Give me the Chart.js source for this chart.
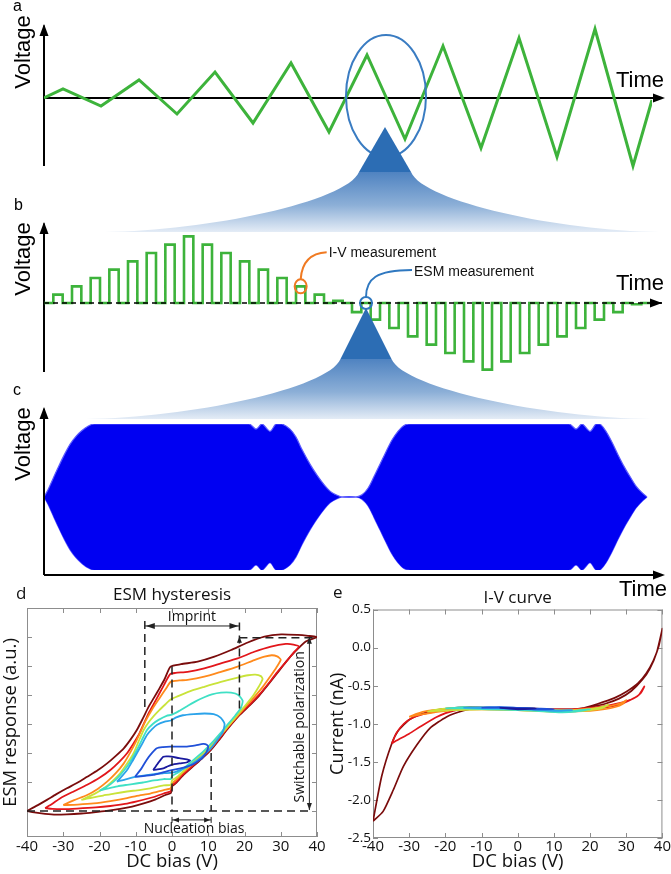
<!DOCTYPE html>
<html><head><meta charset="utf-8">
<script src="https://cdn.jsdelivr.net/npm/chart.js@4.4.1/dist/chart.umd.min.js"></script>
<style>
html,body{margin:0;padding:0;background:#fff;width:671px;height:874px;overflow:hidden}
canvas{position:absolute}
</style></head><body>
<canvas id="ca" width="671" height="240" style="left:0;top:0;width:671px;height:240px"></canvas>
<canvas id="cb" width="671" height="240" style="left:0;top:190px;width:671px;height:240px"></canvas>
<canvas id="cc" width="671" height="220" style="left:0;top:380px;width:671px;height:220px"></canvas>
<canvas id="cd" width="340" height="294" style="left:0;top:580px;width:340px;height:294px"></canvas>
<canvas id="ce" width="341" height="294" style="left:330px;top:580px;width:341px;height:294px"></canvas>
<script>
// ---------------- DATA ----------------
// Panel a: triangular DC-bias ramp (time index, relative voltage)
const rampTime    = [0, 1, 3, 5, 7, 9, 11, 13, 15, 17, 19, 21, 23, 25, 27, 29, 31, 32];
const rampVoltage = [0, 9, -8, 18, -16, 26, -25, 35, -34, 43, -41, 52, -50, 60, -59, 69, -68, -2];
// Panel b: pulse heights of the switching waveform (one per pulse)
const pulseLevels = [1, 2, 3, 4, 5, 6, 7, 8, 7, 6, 5, 4, 3, 2, 1, 0.25,
                     -1.1, -2, -3, -4, -5, -6, -7, -8, -7, -6, -5, -4, -3, -2, -1.1, -0.15];
// Panel c: band-excitation envelope (time offset, relative amplitude)
const envTime = [0, 4, 9, 14, 20, 26, 32, 38, 44, 50, 205, 212, 218, 226, 232, 238, 246, 252, 258, 266, 273, 280, 286, 292, 298,
                 312, 318, 324, 330, 336, 342, 348, 354, 360, 366, 525, 532, 538, 546, 552, 556, 562, 568, 574, 580, 586, 592, 598, 603];
const envAmp  = [0, 0.1, 0.25, 0.4, 0.57, 0.72, 0.83, 0.91, 0.97, 1, 1, 0.93, 1, 0.9, 1, 1, 0.93, 0.82, 0.65, 0.45, 0.3, 0.17, 0.08, 0.03, 0,
                 0, 0.03, 0.12, 0.28, 0.45, 0.62, 0.78, 0.9, 0.98, 1, 1, 0.93, 1, 0.9, 1, 1, 0.9, 0.75, 0.58, 0.42, 0.28, 0.15, 0.06, 0];
// Panel d: ESM hysteresis loops [DC bias (V), ESM response (a.u.)]
const esmLoop40 = [[-40,0],[-37,0.2],[-34.5,0.38],[-32,0.57],[-29,0.78],[-26,0.98],[-23.4,1.18],[-20.5,1.4],[-17.9,1.64],[-15.5,1.9],[-13.3,2.16],[-11.5,2.45],[-9.7,2.79],[-8,3.2],[-6.5,3.58],[-5,3.9],[-3.5,4.22],[-2,4.56],[-0.4,4.98],[2.5,5.06],[7.1,5.15],[11.7,5.32],[16.3,5.55],[20.9,5.81],[25.5,6.01],[30.1,6.09],[34.7,6.07],[37.5,6.04],[40,6.0],
  [37,5.85],[34,5.5],[31.5,5.15],[29,4.75],[26.5,4.35],[24,3.97],[21.5,3.65],[18.6,3.3],[15.5,2.85],[12.8,2.42],[10.7,2.1],[8,1.78],[5.5,1.5],[3,1.22],[1,0.95],[0,0.85],[-0.3,0.62],[-1.8,0.55],[-4.5,0.4],[-7.8,0.26],[-11,0.15],[-14.3,0.07],[-18,0.0],[-21.6,-0.05],[-25,-0.09],[-29,-0.12],[-32,-0.13],[-35,-0.1],[-38,-0.05],[-40,0]];
const esmLoop35 = [[-35,0.1],[-33,0.25],[-30.8,0.44],[-27,0.68],[-23.4,0.9],[-20,1.14],[-17,1.41],[-14.5,1.7],[-12.4,1.99],[-10.5,2.35],[-9.2,2.62],[-7.8,3.0],[-6.4,3.38],[-5,3.7],[-3.7,4.0],[-2.2,4.35],[-0.5,4.72],[1,4.76],[4.3,4.8],[8.9,4.92],[13.5,5.09],[18.1,5.26],[22.7,5.49],[27.3,5.67],[31.4,5.76],[33.5,5.74],[35,5.67],
  [33.5,5.45],[31.5,5.15],[29,4.78],[26.5,4.38],[24,4.0],[21.5,3.68],[18.6,3.33],[15.5,2.88],[12.8,2.45],[10.7,2.13],[8,1.81],[5.5,1.53],[3,1.25],[1,0.98],[0,0.88],[-0.3,0.68],[-2.3,0.6],[-5,0.48],[-9.7,0.33],[-13,0.24],[-17,0.17],[-21,0.12],[-26.2,0.08],[-30,0.06],[-33,0.07],[-35,0.1]];
const esmLoop30 = [[-30,0.2],[-27,0.37],[-23.4,0.55],[-20.5,0.76],[-17.9,1.01],[-15.5,1.3],[-13.3,1.64],[-11.5,2.02],[-9.7,2.45],[-8.5,2.78],[-7.4,3.08],[-5.5,3.5],[-3.5,3.88],[-1.5,4.25],[-0.3,4.46],[2,4.5],[4.3,4.52],[8.9,4.63],[13.5,4.8],[18.1,4.98],[22.7,5.2],[25.5,5.32],[27.5,5.37],[29,5.33],[30,5.22],
  [28.8,4.95],[27,4.62],[25,4.27],[22.5,3.9],[20,3.55],[17.5,3.2],[15,2.85],[12.5,2.48],[10.5,2.2],[8,1.88],[5.5,1.6],[3,1.32],[1,1.05],[0,0.95],[-0.3,0.78],[-2.3,0.72],[-6,0.6],[-9.7,0.52],[-12.4,0.44],[-17,0.34],[-21.6,0.26],[-26,0.22],[-30,0.2]];
const esmLoop25 = [[-25,0.38],[-21.5,0.58],[-18.8,0.78],[-16.5,1.02],[-14.3,1.3],[-12.3,1.65],[-10.6,1.99],[-9.2,2.4],[-7.8,2.79],[-6.5,3.05],[-5,3.28],[-3.5,3.48],[-1.8,3.68],[-0.3,3.85],[1.5,3.95],[4.3,4.1],[8.9,4.28],[13.5,4.45],[18.1,4.6],[21,4.68],[23,4.7],[24.5,4.65],[25,4.55],
  [24,4.3],[22.5,4.0],[20.5,3.68],[18.5,3.38],[16,3.0],[13.5,2.63],[11,2.28],[8.5,1.98],[6,1.7],[3.5,1.42],[1.5,1.18],[0,1.05],[-0.3,0.9],[-2.3,0.88],[-6,0.78],[-9,0.72],[-12.4,0.67],[-16,0.6],[-19,0.53],[-21.6,0.47],[-23.5,0.42],[-25,0.38]];
const esmLoop20 = [[-20,0.7],[-18,0.83],[-16.1,1.01],[-14.2,1.25],[-12.4,1.53],[-11,1.8],[-9.7,2.1],[-8.3,2.45],[-6.9,2.79],[-5.3,3.0],[-3.7,3.14],[-1.5,3.28],[0,3.32],[2,3.45],[4.3,3.62],[6.5,3.78],[8.9,3.92],[11,4.02],[13.5,4.08],[16.3,4.08],[18.3,4.0],[19.5,3.8],
  [19,3.55],[17.5,3.3],[15.5,3.0],[13.5,2.7],[11.5,2.42],[9,2.1],[6.5,1.82],[4,1.55],[2,1.35],[0,1.2],[-0.3,1.1],[-2.3,1.1],[-5,1.05],[-8,0.98],[-12.4,0.9],[-15,0.85],[-17.5,0.78],[-20,0.7]];
const esmLoop15 = [[-15.2,1.01],[-13.8,1.2],[-12.4,1.41],[-11,1.7],[-9.7,1.99],[-8.3,2.3],[-6.9,2.62],[-5.5,2.82],[-4.1,2.97],[-2,3.08],[-0.3,3.12],[1,3.22],[3,3.3],[6,3.34],[9,3.36],[11.5,3.34],[13.4,3.22],[14.5,3.0],
  [14,2.72],[12.5,2.45],[11,2.2],[9,1.95],[7,1.75],[5,1.58],[3,1.45],[1,1.35],[0,1.32],[-2.3,1.3],[-5,1.27],[-9.7,1.18],[-12.5,1.1],[-15.2,1.01]];
const esmLoop10 = [[-10.2,1.18],[-8.5,1.45],[-7,1.76],[-5.5,2.0],[-4.2,2.16],[-2.5,2.2],[-0.5,2.22],[2,2.22],[4.1,2.22],[6.5,2.26],[8.6,2.31],[9.6,2.28],[10,2.2],[9.4,2.0],[8.5,1.85],[7.7,1.76],[6,1.62],[4.1,1.53],[2,1.46],[-0.1,1.41],[-2.5,1.33],[-5.2,1.24],[-8,1.2],[-10.2,1.18]];
const esmLoop5  = [[-5.2,1.41],[-4,1.62],[-2.4,1.87],[-1,1.88],[-0.1,1.87],[2,1.82],[4.1,1.78],[5,1.74],[4,1.67],[2.2,1.64],[-0.1,1.59],[-1.5,1.52],[-2.4,1.47],[-4,1.43],[-5.2,1.41]];
// Panel e: I-V curves [DC bias (V), current (nA)]
const ivLoop40 = [[-40,-2.28],[-37.6,-1.69],[-34.8,-1.26],[-33,-1.09],[-29.8,-0.94],[-25.2,-0.85],[-19.7,-0.8],[-13.2,-0.78],[-5,-0.79],[5,-0.8],[12,-0.82],[17.5,-0.8],[22,-0.74],[26.8,-0.66],[30,-0.58],[33.2,-0.47],[35.5,-0.34],[37.5,-0.17],[39,0.02],[40,0.25],
  [38.5,-0.05],[36.5,-0.28],[34.5,-0.42],[31.4,-0.57],[28,-0.67],[24,-0.74],[20,-0.78],[15,-0.81],[10,-0.81],[0,-0.8],[-10.5,-0.79],[-15.1,-0.83],[-19.7,-0.91],[-24.3,-1.06],[-27.9,-1.28],[-31.6,-1.56],[-34.4,-1.87],[-37.2,-2.15],[-40,-2.28]];
const ivLoop35 = [[-34.8,-1.26],[-33.5,-1.12],[-31.5,-1.0],[-29,-0.92],[-25,-0.86],[-20,-0.82],[-14,-0.8],[-5,-0.8],[5,-0.81],[15,-0.81],[20,-0.79],[25,-0.76],[29,-0.72],[32,-0.67],[34,-0.6],[35,-0.51],
  [33.5,-0.62],[31,-0.69],[28,-0.75],[24,-0.79],[20,-0.81],[10,-0.82],[0,-0.81],[-12,-0.8],[-17.8,-0.83],[-22.4,-0.91],[-27,-1.04],[-30,-1.13],[-33.5,-1.22],[-34.8,-1.26]];
const ivLoop30 = [[-30,-0.91],[-28,-0.87],[-25,-0.83],[-21,-0.81],[-15,-0.79],[-8,-0.79],[0,-0.8],[8,-0.82],[15,-0.82],[20,-0.8],[24,-0.78],[27,-0.75],[29,-0.72],[30,-0.69],
  [29,-0.74],[27,-0.78],[24,-0.81],[20,-0.83],[12,-0.84],[0,-0.82],[-10,-0.81],[-18,-0.82],[-23,-0.85],[-27,-0.88],[-30,-0.91]];
const ivLoop25 = [[-25,-0.84],[-22,-0.81],[-17,-0.79],[-10,-0.79],[0,-0.8],[10,-0.82],[17,-0.82],[21,-0.8],[24,-0.77],[25,-0.75],[23,-0.8],[18,-0.83],[10,-0.84],[0,-0.82],[-10,-0.81],[-18,-0.82],[-22,-0.83],[-25,-0.84]];
const ivLoop20 = [[-20,-0.8],[-15,-0.78],[-8,-0.79],[0,-0.8],[8,-0.82],[12.5,-0.84],[16,-0.83],[20,-0.81],[16,-0.84],[12,-0.85],[5,-0.83],[0,-0.82],[-8,-0.81],[-15,-0.8],[-20,-0.8]];
const ivLoop15 = [[-15,-0.79],[-8,-0.78],[0,-0.79],[7,-0.81],[12,-0.83],[15,-0.82],[10,-0.83],[3,-0.81],[-5,-0.8],[-15,-0.79]];
const ivLoop10 = [[-10,-0.79],[-5,-0.78],[0,-0.79],[5,-0.8],[10,-0.81],[5,-0.81],[0,-0.8],[-5,-0.79],[-10,-0.79]];
const ivLoop5  = [[-5,-0.79],[0,-0.8],[5,-0.8],[0,-0.81],[-5,-0.79]];
const loopColors = ['#7a0c0c', '#e2161b', '#ff8a1c', '#c9e33a', '#3fe0c5', '#2ba3ea', '#2050d8', '#1a1a9e'];
const esmTicks = [0, 1, 2, 3, 4, 5, 6];
const ivTicks = [-2.5, -2.0, -1.5, -1.0, -0.5, 0.0, 0.5];

// ---------------- HELPERS ----------------
const GREEN = '#3db33b';
const ARIAL = '"Liberation Sans", Arial, sans-serif';
const SANS = '"Open Sans", "Noto Sans", sans-serif';
function seg(ctx,x1,y1,x2,y2){ctx.beginPath();ctx.moveTo(x1,y1);ctx.lineTo(x2,y2);ctx.stroke();}
function head(ctx,x,y,dx,dy,len,half){
  const L=Math.hypot(dx,dy), ux=dx/L, uy=dy/L;
  ctx.beginPath(); ctx.moveTo(x,y);
  ctx.lineTo(x-ux*len-uy*half, y-uy*len+ux*half);
  ctx.lineTo(x-ux*len+uy*half, y-uy*len-ux*half);
  ctx.closePath(); ctx.fill();
}
function arrow(ctx,x1,y1,x2,y2,len,half){ seg(ctx,x1,y1,x2-(x2-x1)*0.01,y2-(y2-y1)*0.01); head(ctx,x2,y2,x2-x1,y2-y1,len,half); }
function vText(ctx,txt,x,y){ctx.save();ctx.translate(x,y);ctx.rotate(-Math.PI/2);ctx.textAlign='center';ctx.textBaseline='middle';ctx.fillText(txt,0,0);ctx.restore();}
function funnel(ctx,cx,yTop,half,yBot,xL,xR){
  const h=yBot-yTop, x0=cx-half, x1=cx+half, WL=x0-xL, WR=xR-x1;
  const g=ctx.createLinearGradient(0,yTop,0,yBot);
  g.addColorStop(0,'#4f83c1'); g.addColorStop(0.55,'#8cafd7'); g.addColorStop(1,'#e4ecf6');
  ctx.fillStyle=g; ctx.beginPath(); ctx.moveTo(x0,yTop);
  ctx.bezierCurveTo(x0-0.05*WL, yTop+0.5*h, x0-0.6*WL, yBot-0.02*h, xL, yBot);
  ctx.lineTo(xR,yBot);
  ctx.bezierCurveTo(x1+0.6*WR, yBot-0.02*h, x1+0.05*WR, yTop+0.5*h, x1, yTop);
  ctx.closePath(); ctx.fill();
}
function triangle(ctx,cx,apexY,baseY,half){ctx.fillStyle='#2c6db4';ctx.beginPath();ctx.moveTo(cx,apexY);ctx.lineTo(cx+half,baseY);ctx.lineTo(cx-half,baseY);ctx.closePath();ctx.fill();}
const noUI = {legend:{display:false}, tooltip:{enabled:false}};
const hidden = {display:false};

// ---------------- PANEL A ----------------
new Chart(document.getElementById('ca'), {
  type:'line',
  data:{datasets:[{data:rampTime.map((t,i)=>({x:t,y:rampVoltage[i]})), borderColor:GREEN, borderWidth:3, pointRadius:0, tension:0, fill:false, borderJoinStyle:'miter'}]},
  options:{responsive:false, animation:false, events:[],
    layout:{padding:{left:44,right:19,top:12,bottom:56}},
    plugins:noUI,
    scales:{x:{type:'linear',min:0,max:32,...hidden}, y:{min:-86,max:86,...hidden}}},
  plugins:[{id:'decoA',
    beforeDatasetsDraw(chart){
      const {ctx,scales:{x,y}}=chart; const x0=x.getPixelForValue(0), y0=y.getPixelForValue(0);
      ctx.save(); ctx.strokeStyle='#000'; ctx.fillStyle='#000'; ctx.lineWidth=2;
      arrow(ctx,x0,166,x0,24,12,4.5); arrow(ctx,x0,y0,665,y0,12,4.5);
      ctx.font='22px '+ARIAL; ctx.textAlign='left'; ctx.textBaseline='alphabetic';
      ctx.fillText('Time',616,87); vText(ctx,'Voltage',23.5,52);
      ctx.font='16px '+ARIAL; ctx.fillText('a',13,11);
      ctx.restore();
    },
    afterDatasetsDraw(chart){
      const {ctx,scales:{x,y}}=chart; const cx=x.getPixelForValue(18), cy=y.getPixelForValue(2);
      ctx.save(); ctx.strokeStyle='#3a7cc2'; ctx.lineWidth=2;
      ctx.beginPath(); ctx.ellipse(cx,cy,40,61,0,0,Math.PI*2); ctx.stroke();
      funnel(ctx,cx-1,172,26,232,105,659);
      triangle(ctx,cx-1,127,172,26);
      ctx.restore();
    }}]
});

// ---------------- PANEL B ----------------
const stepPts=[{x:0,y:0}];
pulseLevels.forEach((L,i)=>{stepPts.push({x:2*i+1,y:0},{x:2*i+1,y:L},{x:2*i+2,y:L},{x:2*i+2,y:0});});
stepPts.push({x:65.2,y:0});
new Chart(document.getElementById('cb'), {
  type:'line',
  data:{datasets:[{data:stepPts, borderColor:GREEN, borderWidth:2.6, pointRadius:0, tension:0, fill:false, borderJoinStyle:'miter'}]},
  options:{responsive:false, animation:false, events:[],
    layout:{padding:{left:44,right:11,top:38,bottom:52}},
    plugins:noUI,
    scales:{x:{type:'linear',min:0,max:66,...hidden}, y:{min:-9,max:9,...hidden}}},
  plugins:[{id:'decoB',
    beforeDatasetsDraw(chart){
      const {ctx,scales:{x}}=chart; const x0=x.getPixelForValue(0);
      ctx.save(); ctx.strokeStyle='#000'; ctx.fillStyle='#000'; ctx.lineWidth=2;
      arrow(ctx,x0,182,x0,32,12,4.5);
      ctx.font='22px '+ARIAL; ctx.textAlign='left';
      ctx.fillText('Time',616,100); vText(ctx,'Voltage',23.5,69);
      ctx.font='16px '+ARIAL; ctx.fillText('b',14,20);
      ctx.restore();
    },
    afterDatasetsDraw(chart){
      const {ctx,scales:{x,y}}=chart; const x0=x.getPixelForValue(0), y0=y.getPixelForValue(0);
      ctx.save(); ctx.strokeStyle='#000'; ctx.fillStyle='#000'; ctx.lineWidth=1.5;
      ctx.setLineDash([5,4]); seg(ctx,x0,y0,655,y0); ctx.setLineDash([]);
      ctx.lineWidth=2; arrow(ctx,650,y0,662,y0,12,4.5);
      // I-V measurement marker
      const ox=x.getPixelForValue(27.5), oy=y.getPixelForValue(pulseLevels[13]);
      ctx.strokeStyle='#f07a22'; ctx.lineWidth=2;
      ctx.beginPath(); ctx.ellipse(ox,oy,6,7,0,0,Math.PI*2); ctx.stroke();
      ctx.beginPath(); ctx.moveTo(ox,oy-7); ctx.bezierCurveTo(ox+1,oy-22,ox+8,oy-33,ox+26,oy-34); ctx.stroke();
      // ESM measurement marker
      const bx=x.getPixelForValue(34.5), by=y0;
      ctx.strokeStyle='#2f78c0';
      ctx.beginPath(); ctx.ellipse(bx,by,6,6,0,0,Math.PI*2); ctx.stroke();
      ctx.beginPath(); ctx.moveTo(bx,by-6); ctx.bezierCurveTo(bx,by-24,bx+10,by-33,bx+46,by-33); ctx.stroke();
      ctx.fillStyle='#111'; ctx.font='14px '+ARIAL; ctx.textAlign='left';
      ctx.fillText('I-V measurement',ox+28,oy-29);
      ctx.fillText('ESM measurement',bx+48,by-27);
      funnel(ctx,bx,169,25.5,229,86,651);
      triangle(ctx,bx,118,169,25.5);
      ctx.restore();
    }}]
});

// ---------------- PANEL C ----------------
new Chart(document.getElementById('cc'), {
  type:'line',
  data:{datasets:[
    {data:envTime.map((t,i)=>({x:t,y:envAmp[i]})), borderColor:'#5a5aff', borderWidth:1.2, backgroundColor:'#0000f2', pointRadius:0, tension:0.3, fill:'+1'},
    {data:envTime.map((t,i)=>({x:t,y:-envAmp[i]})), borderColor:'#5a5aff', borderWidth:1.2, pointRadius:0, tension:0.3, fill:false}]},
  options:{responsive:false, animation:false, events:[],
    layout:{padding:{left:44,right:10,top:44,bottom:30}},
    plugins:noUI,
    scales:{x:{type:'linear',min:0,max:617,...hidden}, y:{min:-1,max:1,...hidden}}},
  plugins:[{id:'decoC',
    afterDatasetsDraw(chart){
      const {ctx,scales:{x}}=chart; const x0=x.getPixelForValue(0);
      ctx.save(); ctx.strokeStyle='#000'; ctx.fillStyle='#000'; ctx.lineWidth=2;
      arrow(ctx,x0,195,x0,27,12,4.5); arrow(ctx,x0,195,665,195,12,4.5);
      ctx.font='22px '+ARIAL; ctx.textAlign='left';
      ctx.fillText('Time',619,216); vText(ctx,'Voltage',24,64);
      ctx.font='16px '+ARIAL; ctx.fillText('c',13,15);
      ctx.restore();
    }}]
});

// ---------------- frame plugin for d / e ----------------
function framePlugin(yTicks){ return {id:'frame',
  beforeDatasetsDraw(chart){
    const {ctx,chartArea:a,scales:{x}}=chart; const y=chart.scales.y;
    ctx.save(); ctx.strokeStyle='#8d8d8d'; ctx.lineWidth=1;
    ctx.strokeRect(a.left+0.5,a.top+0.5,a.right-a.left-1,a.bottom-a.top-1);
    x.ticks.forEach(t=>{const p=Math.round(x.getPixelForValue(t.value))+0.5; seg(ctx,p,a.bottom,p,a.bottom-5); seg(ctx,p,a.top,p,a.top+5);});
    yTicks.forEach(v=>{const p=Math.round(y.getPixelForValue(v))+0.5; seg(ctx,a.left,p,a.left+5,p); seg(ctx,a.right,p,a.right-5,p);});
    ctx.restore();
  }};}
function loopSet(arr,color,w,order){return {data:arr.map(p=>({x:p[0],y:p[1]})), showLine:true, borderColor:color, borderWidth:w, pointRadius:0, tension:0.2, fill:false, order:order};}

// ---------------- PANEL D ----------------
const imprintLeft=-7.5, imprintRight=18.6, nucleationBias=10.8, switchTop=5.97, polarizationV=37.9;
const esmLoops=[esmLoop40,esmLoop35,esmLoop30,esmLoop25,esmLoop20,esmLoop15,esmLoop10,esmLoop5];
new Chart(document.getElementById('cd'), {
  type:'scatter',
  data:{datasets:esmLoops.map((l,i)=>loopSet(l,loopColors[i],1.8,7-i))},
  options:{responsive:false, animation:false, events:[],
    layout:{padding:{left:0,right:23,top:0,bottom:0}},
    plugins:{...noUI, title:{display:true,text:'ESM hysteresis',fullSize:false,color:'#111',font:{family:SANS,size:17,weight:'normal'},padding:{top:5,bottom:2.6}}},
    scales:{
      x:{type:'linear',min:-40,max:40,ticks:{stepSize:10,autoSkip:false,maxRotation:0,padding:1,color:'#111',font:{family:SANS,size:15}},
         grid:{display:false,drawTicks:false},border:{display:false},
         title:{display:true,text:'DC bias (V)',color:'#111',font:{family:SANS,size:18.5},padding:{top:0,bottom:1}},
         afterFit(s){s.height=37;}},
      y:{min:-0.9,max:7,ticks:{display:false},grid:{display:false,drawTicks:false},border:{display:false},
         title:{display:true,text:'ESM response (a.u.)',color:'#111',font:{family:SANS,size:18.5},padding:0},
         afterBuildTicks(s){s.ticks=esmTicks.map(v=>({value:v}));},
         afterFit(s){s.width=27;}}}},
  plugins:[framePlugin(esmTicks),{id:'annD',
    afterDatasetsDraw(chart){
      const {ctx,scales:{x,y}}=chart; const X=v=>x.getPixelForValue(v), Y=v=>y.getPixelForValue(v);
      ctx.save(); ctx.strokeStyle='#222'; ctx.fillStyle='#222'; ctx.lineWidth=1.5; ctx.setLineDash([8,5]);
      seg(ctx,X(imprintLeft),Y(6.55),X(imprintLeft),Y(3.5));
      seg(ctx,X(imprintRight),Y(6.5),X(imprintRight),Y(3.48));
      seg(ctx,X(0),Y(4.98),X(0),Y(0));
      seg(ctx,X(nucleationBias),Y(2.0),X(nucleationBias),Y(0));
      seg(ctx,X(-40),Y(0),X(38.5),Y(0));
      seg(ctx,X(imprintRight),Y(switchTop),X(39.5),Y(switchTop));
      ctx.setLineDash([]); ctx.lineWidth=1;
      const ya=Y(6.38);
      seg(ctx,X(imprintLeft),ya,X(imprintRight),ya);
      head(ctx,X(imprintLeft)+1,ya,-1,0,9,3); head(ctx,X(imprintRight)-1,ya,1,0,9,3);
      head(ctx,X(imprintRight),Y(switchTop)-1,0,-1,6,2.5);
      const xp=X(polarizationV);
      seg(ctx,xp,Y(switchTop),xp,Y(0.03));
      head(ctx,xp,Y(switchTop)-1,0,-1,7,2.5); head(ctx,xp,Y(0.03),0,1,7,2.5);
      const yn=Y(-0.31);
      seg(ctx,X(0),yn,X(nucleationBias),yn);
      head(ctx,X(0)+1,yn,-1,0,6,2.5); head(ctx,X(nucleationBias)-1,yn,1,0,6,2.5);
      seg(ctx,X(0),yn-3,X(0),yn+3); seg(ctx,X(nucleationBias),yn-3,X(nucleationBias),yn+3);
      ctx.fillStyle='#111'; ctx.font='14px '+SANS; ctx.textAlign='center';
      ctx.fillText('Imprint',X(5.5),ya-5);
      ctx.fillText('Nucleation bias',X(6.1),253);
      vText(ctx,'Switchable polarization',X(35.3),Y(2.9));
      ctx.font='17px '+SANS; ctx.textAlign='left'; ctx.fillText('d',16,19);
      ctx.restore();
    }}]
});

// ---------------- PANEL E ----------------
const ivLoops=[ivLoop40,ivLoop35,ivLoop30,ivLoop25,ivLoop20,ivLoop15,ivLoop10,ivLoop5];
new Chart(document.getElementById('ce'), {
  type:'scatter',
  data:{datasets:ivLoops.map((l,i)=>loopSet(l,loopColors[i],1.7,7-i))},
  options:{responsive:false, animation:false, events:[],
    layout:{padding:{left:0,right:8,top:0,bottom:0}},
    plugins:{...noUI, title:{display:true,text:'I-V curve',fullSize:false,color:'#111',font:{family:SANS,size:17,weight:'normal'},padding:{top:8,bottom:1.1}}},
    scales:{
      x:{type:'linear',min:-40,max:40,ticks:{stepSize:10,autoSkip:false,maxRotation:0,padding:0,color:'#111',font:{family:SANS,size:15}},
         grid:{display:false,drawTicks:false},border:{display:false},
         title:{display:true,text:'DC bias (V)',color:'#111',font:{family:SANS,size:18.5},padding:{top:0,bottom:1}},
         afterFit(s){s.height=36;}},
      y:{min:-2.5,max:0.5,ticks:{stepSize:0.5,padding:2,color:'#111',font:{family:SANS,size:13.5},callback:v=>v.toFixed(1)},
         grid:{display:false,drawTicks:false},border:{display:false},
         title:{display:true,text:'Current (nA)',color:'#111',font:{family:SANS,size:18},padding:{top:-3,bottom:0}},
         afterFit(s){s.width=43;}}}},
  plugins:[framePlugin(ivTicks),{id:'labE',afterDraw(chart){const ctx=chart.ctx; ctx.save(); ctx.fillStyle='#111'; ctx.font='17px '+SANS; ctx.fillText('e',3,18); ctx.restore();}}]
});
</script>
</body></html>
